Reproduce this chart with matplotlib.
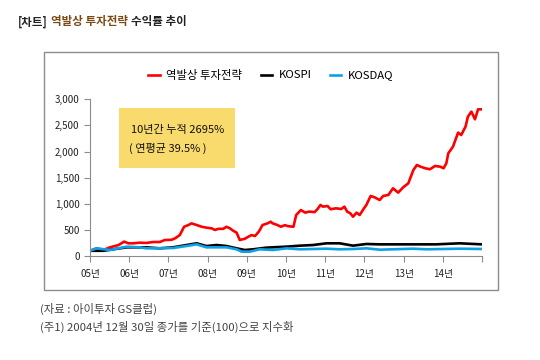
import matplotlib
matplotlib.use("Agg")
import matplotlib.pyplot as plt
from matplotlib.patches import Rectangle
from matplotlib.ticker import FuncFormatter

plt.rcParams['font.family'] = ['Noto Sans CJK KR', 'DejaVu Sans']

# x positions in years since 2004-12-30 (0 = 05년), values indexed to 100
t_red = [0.0, 0.17, 0.34, 0.51, 0.73, 0.87, 0.98, 1.10, 1.27, 1.44, 1.61, 1.78,
         1.91, 2.08, 2.17, 2.29, 2.40, 2.51, 2.59, 2.72, 2.85, 2.97, 3.10, 3.19,
         3.27, 3.40, 3.48, 3.57, 3.65, 3.74, 3.82, 3.95, 4.04, 4.12, 4.21, 4.31,
         4.40, 4.53, 4.61, 4.66, 4.78, 4.87, 4.97, 5.06, 5.19, 5.26, 5.38, 5.49,
         5.59, 5.73, 5.80, 5.88, 5.94, 6.06, 6.14, 6.27, 6.41, 6.49, 6.56, 6.64,
         6.71, 6.80, 6.88, 6.99, 7.05, 7.16, 7.26, 7.39, 7.48, 7.61, 7.73, 7.86,
         7.99, 8.12, 8.25, 8.34, 8.43, 8.55, 8.67, 8.80, 8.93, 9.02, 9.09, 9.14,
         9.26, 9.39, 9.47, 9.58, 9.64, 9.73, 9.82, 9.90, 10.0]
v_red = [100, 147, 115, 166, 210, 275, 243, 243, 255, 250, 268, 268,
         306, 310, 338, 400, 560, 593, 625, 593, 560, 543, 530, 498,
         520, 520, 560, 530, 485, 447, 306, 330, 370, 400, 383, 470,
         593, 625, 657, 625, 593, 560, 590, 570, 560, 785, 880, 830,
         850, 840, 895, 977, 945, 957, 895, 913, 900, 945, 850, 817,
         753, 830, 785, 913, 977, 1150, 1123, 1072, 1150, 1168, 1296, 1213,
         1315, 1392, 1647, 1743, 1711, 1680, 1660, 1723, 1711, 1680, 1775, 1966,
         2094, 2362, 2317, 2477, 2668, 2764, 2617, 2808, 2808]

t_kospi = [0.0, 0.34, 0.94, 1.44, 1.78, 2.12, 2.46, 2.72, 2.97, 3.23, 3.48, 3.74,
           3.95, 4.16, 4.50, 5.01, 5.36, 5.69, 6.03, 6.37, 6.71, 7.05, 7.39, 8.07,
           8.83, 9.43, 10.0]
v_kospi = [100, 100, 166, 166, 147, 166, 210, 243, 191, 210, 191, 147,
           115, 128, 160, 179, 198, 210, 243, 243, 198, 230, 223, 223,
           223, 243, 223]

t_kosdaq = [0.0, 0.17, 0.51, 0.94, 1.27, 1.44, 1.61, 2.12, 2.46, 2.72, 2.97, 3.23,
            3.48, 3.74, 3.87, 4.08, 4.33, 4.67, 5.01, 5.36, 5.69, 6.03, 6.37, 6.71,
            7.05, 7.39, 7.73, 8.24, 8.58, 9.43, 10.0]
v_kosdaq = [100, 147, 115, 179, 166, 147, 147, 153, 191, 223, 166, 166,
            166, 128, 83, 83, 128, 115, 147, 128, 134, 140, 128, 134,
            147, 121, 128, 140, 128, 140, 134]

year_labels = ['05년', '06년', '07년', '08년', '09년', '10년', '11년', '12년', '13년', '14년']

fig = plt.figure(figsize=(5.4, 3.6), dpi=100)

# outer chart frame
fig.patches.append(Rectangle((44 / 540, 1 - 290 / 360), 454 / 540, 238 / 360,
                             transform=fig.transFigure, fill=False,
                             edgecolor='#8c8c8c', linewidth=1.0))

ax = fig.add_axes([90 / 540, 1 - 256 / 360, 392 / 540, 156.7 / 360])
ax.plot(t_red, v_red, color='#ff0000', lw=1.9, label='역발상 투자전략')
ax.plot(t_kospi, v_kospi, color='#000000', lw=1.9, label='KOSPI')
ax.plot(t_kosdaq, v_kosdaq, color='#0fa0e6', lw=1.9, label='KOSDAQ')

ax.set_xlim(0, 10)
ax.set_ylim(0, 3000)
ax.set_xticks(range(11))
ax.set_xticklabels(year_labels + [''])
ax.set_yticks(range(0, 3001, 500))
ax.yaxis.set_major_formatter(FuncFormatter(lambda v, p: f'{int(v):,}'))
for s in ['top', 'right']:
    ax.spines[s].set_visible(False)
for s in ['left', 'bottom']:
    ax.spines[s].set_color('#8c8c8c')
ax.tick_params(colors='#8c8c8c', labelcolor='#222222', labelsize=7, length=4)
ax.tick_params(axis='x', pad=5)

# yellow annotation box
fig.patches.append(Rectangle((119 / 540, 1 - 168 / 360), 116 / 540, 60 / 360,
                             transform=fig.transFigure, facecolor='#f9da6c',
                             edgecolor='none', zorder=3))
fig.text(131 / 540, 1 - 130 / 360, '10년간 누적 2695%', fontsize=8,
         va='center', ha='left', color='#111111', zorder=4)
fig.text(129 / 540, 1 - 148 / 360, '( 연평균 39.5% )', fontsize=8,
         va='center', ha='left', color='#111111', zorder=4)

fig.legend(loc='center', bbox_to_anchor=(271 / 540, 1 - 75 / 360), ncol=3,
           frameon=False, fontsize=8.2, handlelength=1.0, columnspacing=1.6,
           handletextpad=0.6)

# title, three coloured parts chained one after another
t1 = fig.text(18 / 540, 1 - 22 / 360, '[차트]', fontsize=8.3, fontweight='bold',
              va='center', ha='left', color='#222222')
t2 = fig.text(0, 0, '역발상 투자전략', fontsize=8.3, fontweight='bold',
              va='center', ha='left', color='#7b4a12')
t3 = fig.text(0, 0, '수익률 추이', fontsize=8.3, fontweight='bold',
              va='center', ha='left', color='#222222')
fig.canvas.draw()
r = fig.canvas.get_renderer()
inv = fig.transFigure.inverted()
b1 = t1.get_window_extent(r)
t2.set_position((inv.transform((b1.x1 + 3, 0))[0], 1 - 22 / 360))
b2 = t2.get_window_extent(r)
t3.set_position((inv.transform((b2.x1 + 3, 0))[0], 1 - 22 / 360))

# footnotes
fig.text(40 / 540, 1 - 309 / 360, '(자료 : 아이투자 GS클럽)', fontsize=8.2,
         va='center', ha='left', color='#444444')
fig.text(40 / 540, 1 - 327 / 360, '(주1) 2004년 12월 30일 종가를 기준(100)으로 지수화',
         fontsize=8.2, va='center', ha='left', color='#444444')

fig.savefig('out.png', dpi=100)
